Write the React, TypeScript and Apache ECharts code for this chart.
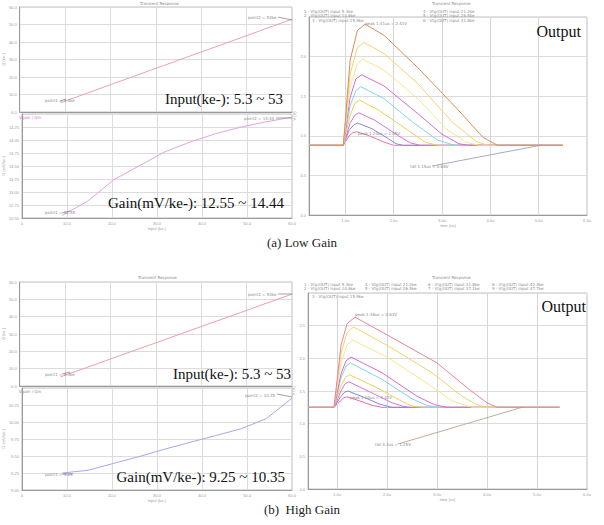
import React, { useEffect, useRef } from 'react';
import * as echarts from 'echarts';

// ---- left panels: input charge and gain versus sweep step ----
const sweepX = [9, 14.7, 20.3, 26, 31.7, 37.3, 43, 48.7, 54.3, 60];
const inputKe = [5.3, 10.6, 15.9, 21.2, 26.5, 31.8, 37.1, 42.4, 47.7, 53];
const gainLow = [12.55, 12.83, 13.23, 13.5, 13.77, 13.96, 14.12, 14.25, 14.35, 14.44];
const gainHigh = [9.25, 9.29, 9.39, 9.49, 9.6, 9.7, 9.8, 9.9, 10.05, 10.35];

// ---- right panels: output transients [time, V] ----
const lowPulse1 = [[0.25, 0.88], [0.96, 0.88], [1.1, 1.95], [1.25, 2.33], [1.41, 2.41], [1.8, 2.27], [2.5, 1.86], [3.3, 1.35], [3.85, 0.98], [4.15, 0.88], [5.5, 0.88]];
const lowPulse2 = [[0.25, 0.88], [0.96, 0.88], [1.1, 1.78], [1.25, 2.11], [1.38, 2.18], [1.8, 2.04], [2.5, 1.66], [3.2, 1.18], [3.7, 0.93], [3.95, 0.88], [5.5, 0.88]];
const lowPulse3 = [[0.25, 0.88], [0.96, 0.88], [1.1, 1.62], [1.25, 1.91], [1.36, 1.97], [1.8, 1.83], [2.5, 1.47], [3.1, 1.08], [3.5, 0.92], [3.75, 0.88], [5.5, 0.88]];
const lowPulse4 = [[0.25, 0.88], [0.96, 0.88], [1.1, 1.48], [1.22, 1.72], [1.34, 1.77], [1.8, 1.63], [2.5, 1.28], [3.0, 1.02], [3.35, 0.9], [3.55, 0.88], [5.5, 0.88]];
const lowPulse5 = [[0.25, 0.88], [0.96, 0.88], [1.1, 1.38], [1.22, 1.57], [1.32, 1.62], [1.8, 1.47], [2.4, 1.17], [2.9, 0.95], [3.25, 0.88], [5.5, 0.88]];
const lowPulse6 = [[0.25, 0.88], [0.96, 0.88], [1.1, 1.26], [1.2, 1.41], [1.3, 1.45], [1.7, 1.32], [2.3, 1.07], [2.65, 0.92], [2.9, 0.88], [5.5, 0.88]];
const lowPulse7 = [[0.25, 0.88], [0.96, 0.88], [1.1, 1.16], [1.2, 1.26], [1.28, 1.29], [1.6, 1.2], [2.1, 1.0], [2.35, 0.91], [2.55, 0.88], [5.5, 0.88]];
const lowPulse8 = [[0.25, 0.88], [0.96, 0.88], [1.08, 1.07], [1.18, 1.14], [1.26, 1.16], [1.55, 1.09], [1.9, 0.96], [2.05, 0.9], [2.2, 0.88], [5.5, 0.88]];
const lowPulse9 = [[0.25, 0.88], [0.96, 0.88], [1.08, 1.0], [1.16, 1.04], [1.24, 1.05], [1.5, 1.0], [1.8, 0.92], [2.0, 0.88], [5.5, 0.88]];

const highPulse1 = [[0.42, 1.25], [0.94, 1.25], [1.08, 2.2], [1.2, 2.53], [1.36, 2.63], [2.0, 2.36], [3.0, 1.93], [3.6, 1.55], [4.0, 1.32], [4.2, 1.25], [5.45, 1.25]];
const highPulse2 = [[0.42, 1.25], [0.94, 1.25], [1.08, 2.08], [1.2, 2.39], [1.33, 2.48], [2.0, 2.2], [2.9, 1.78], [3.5, 1.42], [3.8, 1.29], [4.0, 1.25], [5.45, 1.25]];
const highPulse3 = [[0.42, 1.25], [0.94, 1.25], [1.08, 1.93], [1.2, 2.2], [1.31, 2.28], [2.0, 2.02], [2.8, 1.62], [3.3, 1.35], [3.7, 1.25], [5.45, 1.25]];
const highPulse4 = [[0.42, 1.25], [0.94, 1.25], [1.08, 1.76], [1.18, 1.96], [1.28, 2.02], [1.9, 1.78], [2.6, 1.42], [2.95, 1.29], [3.2, 1.25], [5.45, 1.25]];
const highPulse5 = [[0.42, 1.25], [0.94, 1.25], [1.08, 1.7], [1.18, 1.88], [1.27, 1.93], [1.9, 1.68], [2.5, 1.38], [2.8, 1.28], [3.0, 1.25], [5.45, 1.25]];
const highPulse6 = [[0.42, 1.25], [0.94, 1.25], [1.08, 1.58], [1.17, 1.71], [1.25, 1.75], [1.8, 1.55], [2.3, 1.34], [2.5, 1.27], [2.7, 1.25], [5.45, 1.25]];
const highPulse7 = [[0.42, 1.25], [0.94, 1.25], [1.08, 1.5], [1.16, 1.61], [1.24, 1.64], [1.7, 1.47], [2.1, 1.32], [2.3, 1.27], [2.45, 1.25], [5.45, 1.25]];
const highPulse8 = [[0.42, 1.25], [0.94, 1.25], [1.07, 1.41], [1.15, 1.48], [1.22, 1.5], [1.55, 1.4], [1.85, 1.3], [2.1, 1.25], [2.9, 1.25]];
const highPulse9 = [[0.42, 1.25], [0.94, 1.25], [1.07, 1.35], [1.14, 1.4], [1.2, 1.41], [1.45, 1.35], [1.7, 1.28], [1.9, 1.25], [5.45, 1.25]];

const lowPulses = [lowPulse1, lowPulse2, lowPulse3, lowPulse4, lowPulse5, lowPulse6, lowPulse7, lowPulse8, lowPulse9];
const highPulses = [highPulse1, highPulse2, highPulse3, highPulse4, highPulse5, highPulse6, highPulse7, highPulse8, highPulse9];
const lowColors = ['#dc8a5e', '#f3d36a', '#f5e68e', '#d66ad6', '#7fd3f0', '#f0cf58', '#d873da', '#8f84e2', '#e874b0'];
const highColors = ['#e9849a', '#f3d36a', '#f5e68e', '#d66ad6', '#7fd3f0', '#f0cf58', '#d873da', '#7f86e6', '#e86aa0'];

const leftTicks = ['0', '10.0', '20.0', '30.0', '40.0', '50.0', '60.0'];
const pulseTicks = [1, 2, 3, 4, 5, 6];

const SERIF = '"Liberation Serif", "DejaVu Serif", serif';
const tiny = { fontSize: 4, color: '#9a9a9a' };
const gridLine = { show: true, lineStyle: { color: '#dcdcdc', width: 1 } };

function App() {
  const ref = useRef<HTMLDivElement>(null);
  useEffect(() => {
    if (!ref.current) return;
    const chart = echarts.init(ref.current, null, { renderer: 'svg' });
    const grids = [
      { left: 16, top: 7, width: 276, height: 105 },
      { left: 16, top: 114, width: 276, height: 104 },
      { left: 309, top: 17, width: 278, height: 198 },
      { left: 16, top: 282, width: 276, height: 104 },
      { left: 16, top: 388, width: 276, height: 102 },
      { left: 308, top: 293, width: 279, height: 196 },
    ].map((g) => ({ ...g, show: true, borderColor: '#c0c0c0', borderWidth: 1, containLabel: false }));

    const leftX = (gi: number, labels: boolean) => ({
      type: 'value', gridIndex: gi, min: 0, max: 60, interval: 10,
      axisLine: { show: true, lineStyle: { color: '#9a9a9a' } },
      axisTick: { show: false },
      axisLabel: { show: labels, ...tiny, margin: 3, formatter: (v: number) => leftTicks[Math.round(v / 10)] },
      splitLine: gridLine,
      name: labels ? 'input (ke-)' : '', nameLocation: 'middle', nameGap: 8, nameTextStyle: tiny,
    });
    const yAx = (gi: number, min: number, max: number, interval: number, name: string, digits: number, showMax: boolean) => ({
      type: 'value', gridIndex: gi, min, max, interval,
      axisLine: { show: true, lineStyle: { color: '#9a9a9a' } },
      axisTick: { show: false },
      axisLabel: { ...tiny, margin: 3, showMaxLabel: showMax, formatter: (v: number) => v.toFixed(digits) },
      splitLine: gridLine,
      name, nameLocation: 'middle', nameGap: 10, nameTextStyle: tiny,
    });

    const xAxis: any[] = [
      leftX(0, false),
      leftX(1, true),
      {
        type: 'value', gridIndex: 2, min: 0.25, max: 6, interval: 0.25,
        axisLine: { show: true, lineStyle: { color: '#9a9a9a' } },
        axisTick: { show: false }, splitLine: { show: false },
        axisLabel: { ...tiny, margin: 3, formatter: (v: number) => (Math.abs(v - Math.round(v)) < 1e-6 ? v.toFixed(1) + 'u' : '') },
        name: 'time (us)', nameLocation: 'middle', nameGap: 8, nameTextStyle: tiny,
      },
      leftX(3, false),
      leftX(4, true),
      {
        type: 'value', gridIndex: 5, min: 0.42, max: 6,
        axisLine: { show: true, lineStyle: { color: '#9a9a9a' } },
        axisTick: { show: false }, splitLine: { show: false },
        axisLabel: { ...tiny, margin: 3, customValues: pulseTicks, formatter: (v: number) => v.toFixed(1) + 'u' },
        name: 'time (us)', nameLocation: 'middle', nameGap: 8, nameTextStyle: tiny,
      },
    ];
    const yAxis: any[] = [
      yAx(0, 0, 60, 10, 'Q (ke-)', 1, true),
      yAx(1, 12.5, 14.5, 0.25, 'G (mV/ke-)', 2, false),
      yAx(2, 0, 2.5, 0.5, 'V (V)', 1, false),
      yAx(3, 0, 60, 10, 'Q (ke-)', 1, true),
      yAx(4, 9, 10.5, 0.25, 'G (mV/ke-)', 2, false),
      yAx(5, 0, 3, 0.5, 'V (V)', 1, false),
    ];

    const line = (xi: number, data: number[][], color: string, z = 3) => ({
      type: 'line', xAxisIndex: xi, yAxisIndex: xi, data, showSymbol: false, symbol: 'none',
      lineStyle: { color, width: 1 }, z, silent: true,
    });
    const vGrid = (xi: number, base: number) => ({
      type: 'line', xAxisIndex: xi, yAxisIndex: xi, data: [[1, base]], symbol: 'none',
      lineStyle: { opacity: 0 }, z: 1, silent: true,
      markLine: {
        silent: true, symbol: 'none', label: { show: false },
        lineStyle: { color: '#d6d6d6', type: 'solid', width: 1 },
        data: [1, 2, 3, 4, 5].map((v) => ({ xAxis: v })),
      },
    });

    const series: any[] = [
      line(0, sweepX.map((x, i) => [x, inputKe[i]]), '#e9a0b4'),
      line(1, sweepX.map((x, i) => [x, gainLow[i]]), '#e3a2e0'),
      line(3, sweepX.map((x, i) => [x, inputKe[i]]), '#eaa0a6'),
      line(4, sweepX.map((x, i) => [x, gainHigh[i]]), '#a6a6f0'),
      vGrid(2, 0.88),
      vGrid(5, 1.25),
      ...lowPulses.map((d, i) => line(2, d, lowColors[i], 12 - i)),
      ...highPulses.map((d, i) => line(5, d, highColors[i], 12 - i)),
    ];

    const t = (x: number, y: number, text: string, font: string, fill: string, align = 'left') => ({
      type: 'text', x, y, silent: true, z: 50,
      style: { text, font, fill, align, verticalAlign: 'top' },
    });
    const small = (x: number, y: number, text: string, fill = '#8a8a8a') => t(x, y, text, '4px "DejaVu Sans"', fill);
    const seg = (x1: number, y1: number, x2: number, y2: number, stroke = '#8a8a8a') => ({
      type: 'line', silent: true, z: 50, shape: { x1, y1, x2, y2 }, style: { stroke, lineWidth: 0.8 },
    });

    const graphic: any[] = [
      // titles
      small(140, 1, 'Transient Response'),
      small(432, 1, 'Transient Response'),
      small(138, 275, 'Transient Response'),
      small(432, 275, 'Transient Response'),
      // left annotations (a)
      small(45, 98, 'point1 = 5.3ke'), seg(60, 101, 66, 99),
      small(248, 15, 'point2 = 53ke'), seg(278, 17, 292, 20),
      small(19, 115, 'Vgain / Qin', '#d36ad3'),
      small(45, 210, 'point1 = 12.55'), seg(62, 213, 70, 211),
      small(244, 116, 'point2 = 14.44'), seg(276, 118, 292, 118),
      // left annotations (b)
      small(45, 372, 'point1 = 5.3ke'), seg(62, 374, 70, 372),
      small(248, 292, 'point2 = 53ke'), seg(278, 294, 292, 294),
      small(19, 389, 'Vgain / Qin'),
      small(45, 472, 'point1 = 9.25'), seg(62, 474, 73, 474),
      small(245, 393, 'point2 = 10.35'), seg(277, 394, 292, 397),
      // right annotations (a)
      small(365, 21, 'peak 1.41us = 2.41V'),
      small(358, 131, 'peak 1.24us = 1.05V'),
      small(410, 164, 'fall 4.15us = 0.88V'), seg(432, 166, 542, 145, '#9a8fb0'),
      // right annotations (b)
      small(355, 312, 'peak 1.36us = 2.63V'),
      small(350, 395, 'peak 1.20us = 1.41V'),
      small(375, 442, 'fall 4.2us = 1.25V'), seg(398, 444, 523, 407, '#b2957a'),
      // legends (a)
      small(304, 9, '1 - Vtg(OUT) input 5.3ke'),
      small(304, 13, '2 - Vtg(OUT) input 10.6ke'),
      small(312, 18.5, '3 - Vtg(OUT) input 15.9ke'),
      small(423, 9, '4 - Vtg(OUT) input 21.2ke'),
      small(423, 13, '5 - Vtg(OUT) input 26.5ke'),
      small(423, 18.5, '6 - Vtg(OUT) input 31.8ke'),
      // legends (b)
      small(304, 282, '1 - Vtg(OUT) input 5.3ke'),
      small(304, 286.5, '2 - Vtg(OUT) input 10.6ke'),
      small(312, 294.5, '3 - Vtg(OUT) input 15.9ke'),
      small(365, 282, '4 - Vtg(OUT) input 21.2ke'),
      small(365, 286.5, '5 - Vtg(OUT) input 26.5ke'),
      small(428, 282, '6 - Vtg(OUT) input 31.8ke'),
      small(428, 286.5, '7 - Vtg(OUT) input 37.1ke'),
      small(492, 282, '8 - Vtg(OUT) input 42.4ke'),
      small(492, 286.5, '9 - Vtg(OUT) input 47.7ke'),
      // big labels
      t(283, 91, 'Input(ke-): 5.3 ~ 53', `15px ${SERIF}`, '#111', 'right'),
      t(284, 195, 'Gain(mV/ke-): 12.55 ~ 14.44', `15px ${SERIF}`, '#111', 'right'),
      t(581, 23, 'Output', `16px ${SERIF}`, '#111', 'right'),
      t(291, 366, 'Input(ke-): 5.3 ~ 53', `15px ${SERIF}`, '#111', 'right'),
      t(285, 469, 'Gain(mV/ke-): 9.25 ~ 10.35', `15px ${SERIF}`, '#111', 'right'),
      t(586, 298, 'Output', `16px ${SERIF}`, '#111', 'right'),
      // captions
      t(302, 236, '(a) Low Gain', `13px ${SERIF}`, '#222', 'center'),
      t(302, 503, '(b)  High Gain', `13px ${SERIF}`, '#222', 'center'),
    ];

    chart.setOption({
      animation: false,
      backgroundColor: '#ffffff',
      grid: grids,
      xAxis,
      yAxis,
      series,
      graphic,
    });
    return () => chart.dispose();
  }, []);
  return <div ref={ref} style={{ position: 'fixed', left: 0, top: 0, width: 604, height: 525, background: '#fff' }} />;
}

export default App;
